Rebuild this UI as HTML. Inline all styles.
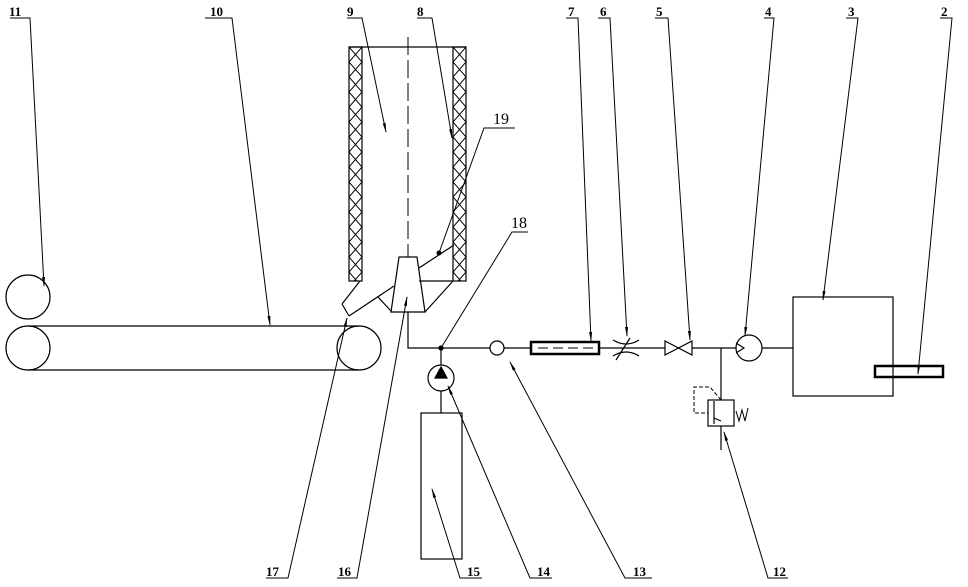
<!DOCTYPE html>
<html><head><meta charset="utf-8"><style>
html,body{margin:0;padding:0;background:#fff;}
svg{display:block;}
text{font-family:"Liberation Serif",serif;font-weight:bold;font-size:13px;fill:#000;}
</style></head><body>
<svg width="968" height="587" viewBox="0 0 968 587" xmlns="http://www.w3.org/2000/svg">
<defs>
<pattern id="hx" width="13" height="15" patternUnits="userSpaceOnUse" x="349" y="47">
<path d="M0,0 L13,15 M13,0 L0,15" stroke="#000" stroke-width="1" fill="none"/>
</pattern>
<marker id="ar" markerWidth="10" markerHeight="6" refX="9" refY="3" orient="auto" markerUnits="userSpaceOnUse">
<path d="M0,1.5 L10,3 L0,4.5 z" fill="#000"/>
</marker>
</defs>
<g stroke="#000" stroke-width="1.2" fill="none">
<!-- column -->
<line x1="349" y1="47" x2="466" y2="47"/>
<rect x="349" y="47" width="13" height="234" fill="url(#hx)"/>
<rect x="453" y="47" width="13" height="234" fill="url(#hx)"/>
<line x1="408" y1="37" x2="408" y2="305" stroke-dasharray="18,5" stroke-width="1"/>
<!-- funnel -->
<polygon points="399,257 417,257 425,312 391,312" fill="#fff"/>
<line x1="419" y1="268" x2="454" y2="245"/>
<line x1="419" y1="281" x2="453" y2="281"/>
<line x1="453" y1="281" x2="425" y2="312"/>
<line x1="360" y1="281" x2="342" y2="304"/>
<line x1="342" y1="304" x2="349" y2="316"/>
<line x1="349" y1="316" x2="394" y2="286"/>
<line x1="378" y1="297" x2="391" y2="311"/>
<!-- belt -->
<circle cx="28" cy="297" r="22"/>
<circle cx="28" cy="348" r="22"/>
<circle cx="359" cy="348" r="22"/>
<line x1="28" y1="326" x2="359" y2="326"/>
<line x1="28" y1="370" x2="359" y2="370"/>
<!-- pipe -->
<polyline points="408,312 408,348 531,348"/>
<circle cx="441" cy="348" r="2" fill="#000"/>
<circle cx="497" cy="348" r="7" fill="#fff"/>
<rect x="531" y="342" width="68" height="12" stroke-width="2.5"/>
<line x1="538" y1="348" x2="594" y2="348" stroke-dasharray="10,5" stroke-width="1"/>
<line x1="599" y1="348" x2="736" y2="348"/>
<!-- throttle 6 -->
<path d="M613,340 Q626,348 639,340 M613,356 Q626,348 639,356"/>
<line x1="616" y1="360" x2="630" y2="338"/>
<!-- valve 5 -->
<polygon points="665,341 665,355 692,341 692,355" fill="#fff"/>
<!-- pump 4 -->
<circle cx="749" cy="348" r="13"/>
<polyline points="736,343 744,348 736,353"/>
<line x1="762" y1="348" x2="793" y2="348"/>
<rect x="793" y="297" width="100" height="99"/>
<rect x="875" y="366" width="68" height="11" stroke-width="2.5"/>
<!-- relief valve 12 -->
<line x1="721" y1="348" x2="721" y2="400"/>
<rect x="708" y="400" width="26" height="26"/>
<line x1="714" y1="401" x2="714" y2="424"/>
<polyline points="721,400 710,387 694,387 694,413 708,413" stroke-dasharray="4,2" stroke-width="1"/>
<polyline points="736,411 739,421 742,410 745,421 748,408" stroke-width="1"/>
<line x1="721" y1="426" x2="721" y2="450"/>
<!-- pump 14, tank -->
<line x1="441" y1="348" x2="441" y2="365"/>
<circle cx="441" cy="378" r="13"/>
<polygon points="441,367 435,378 447,378" fill="#000"/>
<line x1="441" y1="391" x2="441" y2="413"/>
<rect x="421" y="413" width="41" height="146"/>
</g>
<!-- leaders -->
<g stroke="#000" stroke-width="1" fill="none">
<polyline points="10,18 30,18 44,286" marker-end="url(#ar)"/>
<polyline points="205,18 232,18 270,325" marker-end="url(#ar)"/>
<polyline points="347,18 362,18 386,132" marker-end="url(#ar)"/>
<polyline points="417,18 432,18 452,138" marker-end="url(#ar)"/>
<polyline points="515,128 484,128 439,253"/>
<circle cx="439" cy="253" r="2" fill="#000"/>
<polyline points="528,232 512,232 441,348"/>
<polyline points="566,18 578,18 591,341" marker-end="url(#ar)"/>
<polyline points="598,18 610,18 627,336" marker-end="url(#ar)"/>
<polyline points="655,18 668,18 690,340" marker-end="url(#ar)"/>
<polyline points="764,18 774,18 745,336" marker-end="url(#ar)"/>
<polyline points="846,18 858,18 823,300" marker-end="url(#ar)"/>
<polyline points="940,18 952,18 918,374" marker-end="url(#ar)"/>
<polyline points="266,578 288,578 347,318" marker-end="url(#ar)"/>
<polyline points="337,578 357,578 407,297" marker-end="url(#ar)"/>
<polyline points="482,578 460,578 432,489" marker-end="url(#ar)"/>
<polyline points="552,578 530,578 448,386" marker-end="url(#ar)"/>
<polyline points="652,578 625,578 510,362" marker-end="url(#ar)"/>
<polyline points="788,578 768,578 724,432" marker-end="url(#ar)"/>
<line x1="721" y1="421" x2="714" y2="418"/>
</g>
<g>
<text x="9" y="16">11</text>
<text x="210" y="16">10</text>
<text x="347" y="16">9</text>
<text x="417" y="16">8</text>
<text x="493" y="124" style="font-weight:normal;font-size:16px">19</text>
<text x="511" y="228" style="font-weight:normal;font-size:16px">18</text>
<text x="568" y="16">7</text>
<text x="600" y="16">6</text>
<text x="656" y="16">5</text>
<text x="765" y="16">4</text>
<text x="848" y="16">3</text>
<text x="941" y="16">2</text>
<text x="266" y="576">17</text>
<text x="338" y="576">16</text>
<text x="467" y="576">15</text>
<text x="537" y="576">14</text>
<text x="633" y="576">13</text>
<text x="773" y="576">12</text>
</g>
</svg>
</body></html>
